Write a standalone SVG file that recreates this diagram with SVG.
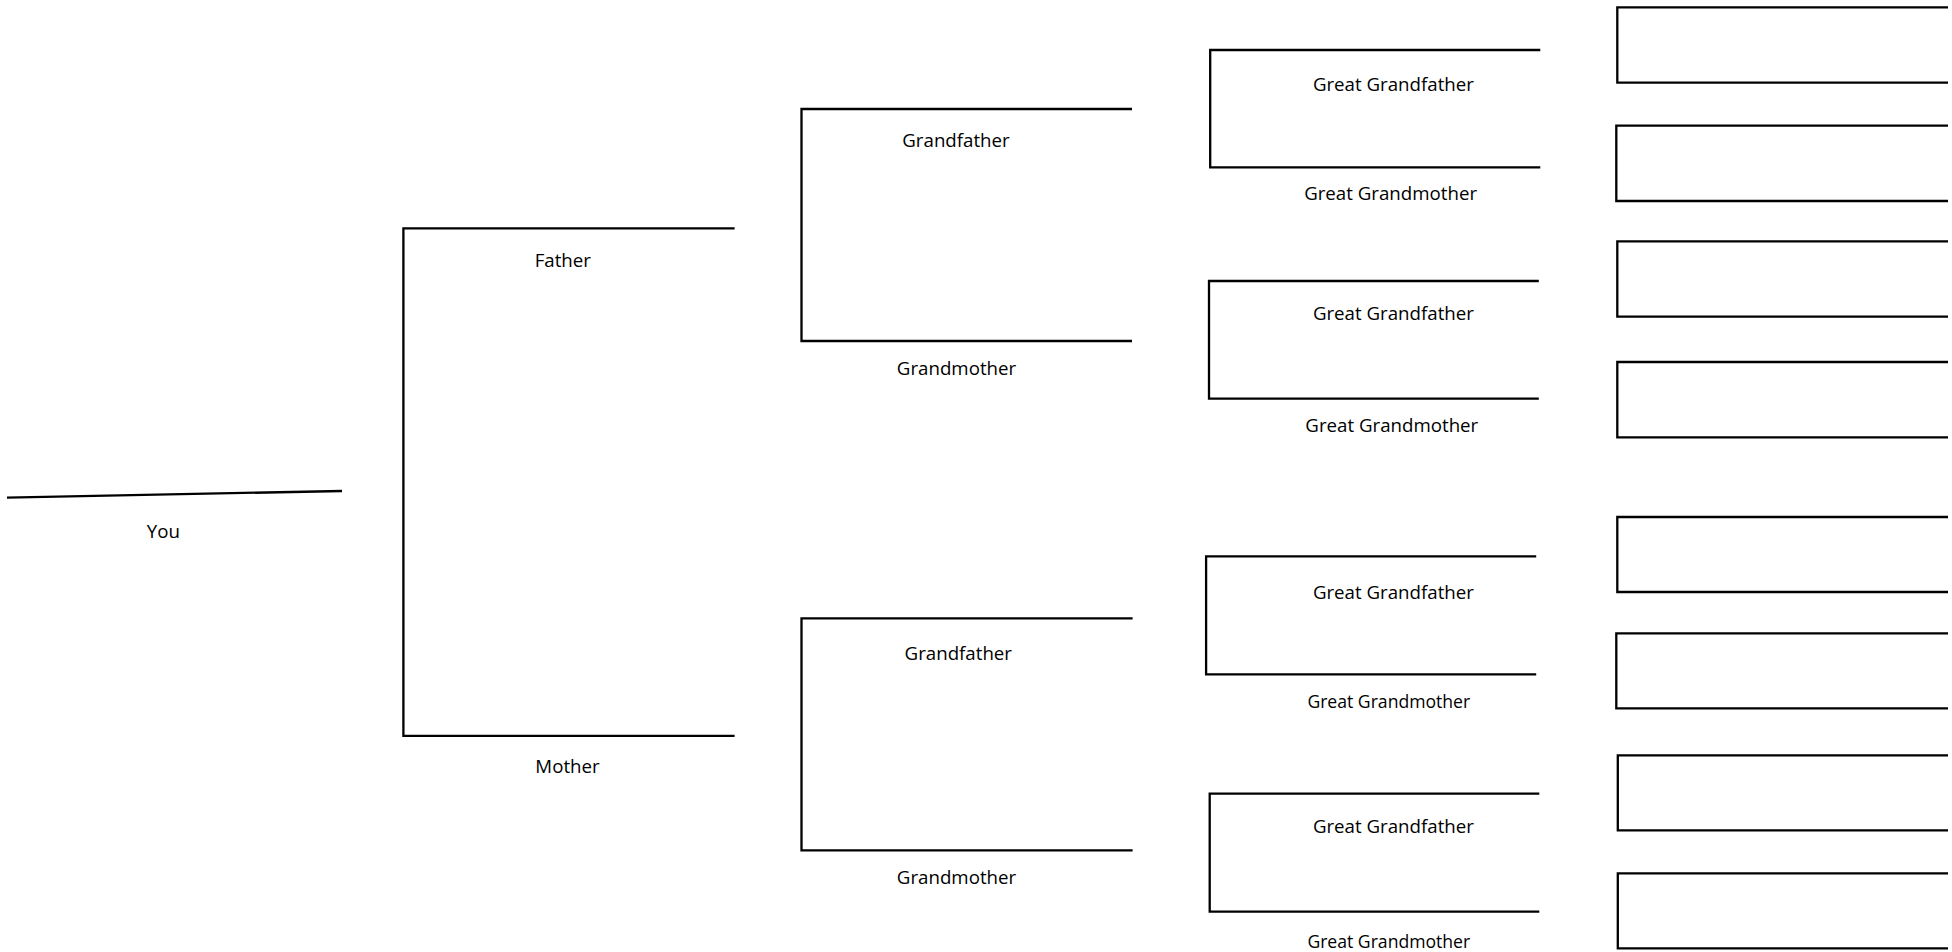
<svg xmlns="http://www.w3.org/2000/svg" width="1952" height="952" viewBox="0 0 1952 952">
<style>
.ln{fill:none;stroke:#000;stroke-width:2.3;stroke-linejoin:miter;stroke-linecap:butt}
.t{font-family:"Open Sans","Noto Sans","Liberation Sans",sans-serif;font-size:18.7px;fill:#000;text-anchor:middle}
.s{font-size:17.6px}
</style>
<rect width="1952" height="952" fill="#fff"/>
<g id="connectors">
<path class="ln" d="M7,497.7 L342,491"/>
<path class="ln" d="M734.6,228.3 H403.4 V735.8 H734.6"/>
<path class="ln" d="M1132,109 H801.5 V341 H1132"/>
<path class="ln" d="M1132.6,618.3 H801.5 V850.3 H1132.6"/>
<path class="ln" d="M1540.3,50 H1210.2 V167.3 H1540.3"/>
<path class="ln" d="M1538.8,281 H1209 V398.7 H1538.8"/>
<path class="ln" d="M1536.2,556.3 H1206.1 V674.3 H1536.2"/>
<path class="ln" d="M1539.3,793.7 H1209.7 V911.7 H1539.3"/>
</g>
<g id="you"><text class="t" x="163.3" y="538.3">You</text></g>
<g id="father"><text class="t" x="562.8" y="266.7">Father</text></g>
<g id="mother"><text class="t" x="567.5" y="773.3">Mother</text></g>
<g id="grandfather-1"><text class="t" x="956" y="146.7">Grandfather</text></g>
<g id="grandmother-1"><text class="t" x="956.5" y="375">Grandmother</text></g>
<g id="grandfather-2"><text class="t" x="958.3" y="660">Grandfather</text></g>
<g id="grandmother-2"><text class="t" x="956.5" y="884">Grandmother</text></g>
<g id="great-grandfather-1"><text class="t" x="1393.4" y="90.7">Great Grandfather</text></g>
<g id="great-grandmother-1"><text class="t" x="1390.6" y="200">Great Grandmother</text></g>
<g id="great-grandfather-2"><text class="t" x="1393.4" y="320">Great Grandfather</text></g>
<g id="great-grandmother-2"><text class="t" x="1391.8" y="431.7">Great Grandmother</text></g>
<g id="great-grandfather-3"><text class="t" x="1393.4" y="599">Great Grandfather</text></g>
<g id="great-grandmother-3"><text class="t s" x="1388.8" y="708.3">Great Grandmother</text></g>
<g id="great-grandfather-4"><text class="t" x="1393.4" y="832.7">Great Grandfather</text></g>
<g id="great-grandmother-4"><text class="t s" x="1388.8" y="947.7">Great Grandmother</text></g>
<g id="box-1"><path class="ln" d="M1948,7.3 H1617.3 V82.7 H1948"/></g>
<g id="box-2"><path class="ln" d="M1948,125.7 H1616.3 V201 H1948"/></g>
<g id="box-3"><path class="ln" d="M1948,241.3 H1617.3 V316.7 H1948"/></g>
<g id="box-4"><path class="ln" d="M1948,362 H1617.3 V437.3 H1948"/></g>
<g id="box-5"><path class="ln" d="M1948,517 H1617.3 V592 H1948"/></g>
<g id="box-6"><path class="ln" d="M1948,633.3 H1616.3 V708.3 H1948"/></g>
<g id="box-7"><path class="ln" d="M1948,755.3 H1617.8 V830.3 H1948"/></g>
<g id="box-8"><path class="ln" d="M1948,873.3 H1617.8 V948.3 H1948"/></g>
</svg>
